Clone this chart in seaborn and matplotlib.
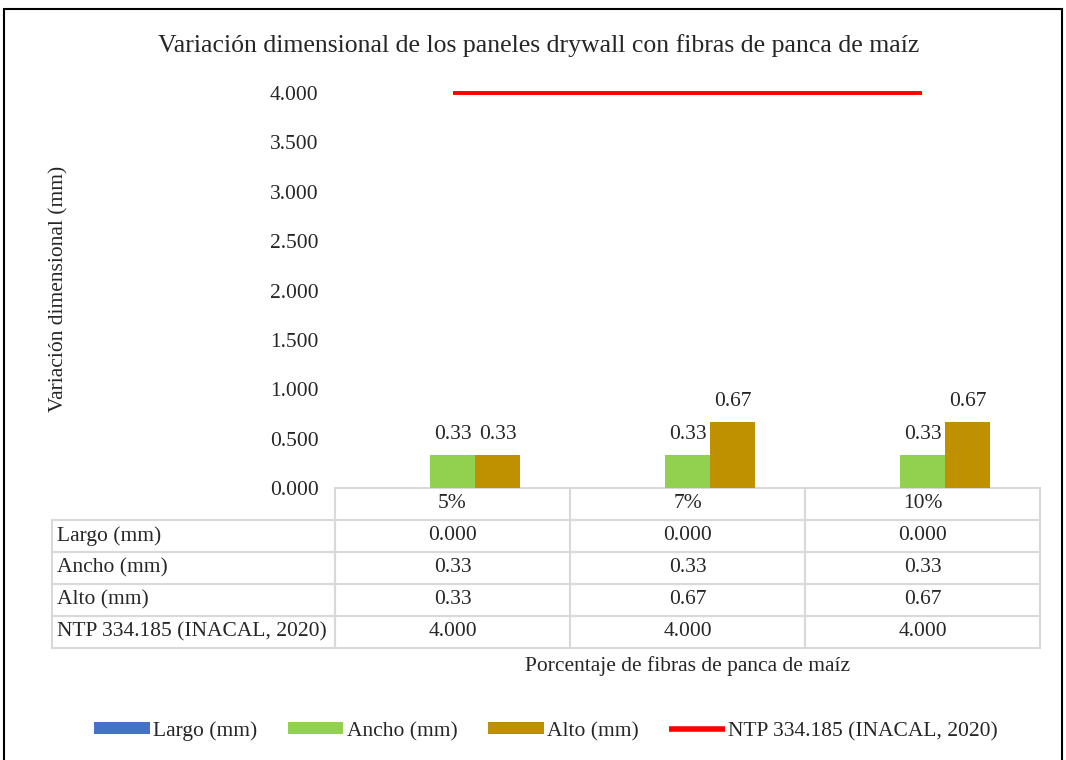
import numpy as np
import pandas as pd
import matplotlib.pyplot as plt
from matplotlib.patches import Rectangle
import seaborn as sns

categorias = ['5%', '7%', '10%']
largo = [0.000, 0.000, 0.000]
ancho = [0.33, 0.33, 0.33]
alto = [0.33, 0.67, 0.67]
ntp = [4.000, 4.000, 4.000]

series = ['Largo (mm)', 'Ancho (mm)', 'Alto (mm)']
ntp_nombre = 'NTP 334.185 (INACAL, 2020)'
colores = ['#4472C4', '#92D050', '#BF9000']

sns.set_style('white')
plt.rcParams['font.family'] = ['Liberation Serif', 'DejaVu Serif']
fs = 15.5

df = pd.DataFrame({
    'Porcentaje': categorias * 3,
    'valor': largo + ancho + alto,
    'serie': [s for s in series for _ in categorias],
})

fig = plt.figure(figsize=(10.66, 7.6), dpi=100)
ax = fig.add_axes([0.3143, 0.3579, 0.6613, 0.5197])

sns.barplot(data=df, x='Porcentaje', y='valor', hue='serie', hue_order=series,
            palette=colores, width=0.575, saturation=1, errorbar=None,
            linewidth=0, ax=ax)
handles, labels = ax.get_legend_handles_labels()
ax.get_legend().remove()

sns.lineplot(x=np.arange(len(categorias)), y=ntp, color='#FF0000',
             linewidth=2.8, legend=False, ax=ax)
linea = ax.get_lines()[-1]
linea.set_clip_on(False)
linea.set_solid_capstyle('butt')

# etiquetas de datos (Largo sin etiqueta)
for cont, vals in zip(ax.containers, [largo, ancho, alto]):
    etiquetas = ['' if v == 0 else f'{v:.2f}' for v in vals]
    ax.bar_label(cont, labels=etiquetas, padding=8, fontsize=fs)

ax.set_xlim(-0.5, len(categorias) - 0.5)
ax.set_ylim(0, 4.0)
ax.set_yticks(np.arange(0, 4.01, 0.5))
ax.set_yticklabels([f'{t:.3f}' for t in np.arange(0, 4.01, 0.5)], fontsize=fs)
ax.tick_params(axis='y', length=0, pad=12)
ax.set_xticks([])
ax.set_xlabel('')
ax.set_ylabel('')
sns.despine(ax=ax, left=True, bottom=True)

# tabla de datos
filas = [
    [series[0]] + [f'{v:.3f}' for v in largo],
    [series[1]] + [f'{v:.2f}' for v in ancho],
    [series[2]] + [f'{v:.2f}' for v in alto],
    [ntp_nombre] + [f'{v:.3f}' for v in ntp],
]
ancho_etq = 283 / 705
tabla = ax.table(cellText=filas, colLabels=[''] + categorias,
                 colWidths=[ancho_etq] + [1 / 3] * 3,
                 cellLoc='center', bbox=[-ancho_etq, -0.405, 1 + ancho_etq, 0.405])
tabla.auto_set_font_size(False)
tabla.set_fontsize(fs)
for (r, c), cell in tabla.get_celld().items():
    cell.set_edgecolor('#d9d9d9')
    cell.set_linewidth(1.5)
    cell.set_facecolor('none')
    if c == 0:
        cell.get_text().set_horizontalalignment('left')
        cell.PAD = 0.018
    if r == 0 and c == 0:
        cell.visible_edges = ''

fig.text(0.505, 0.94, 'Variación dimensional de los paneles drywall con fibras de panca de maíz',
         ha='center', va='center', fontsize=18.5)
fig.text(0.055, 0.62, 'Variación dimensional (mm)', rotation=90,
         ha='center', va='center', fontsize=fs)
fig.text(0.645, 0.1237, 'Porcentaje de fibras de panca de maíz',
         ha='center', va='center', fontsize=fs)

leg = fig.legend(handles + [linea], labels + [ntp_nombre], loc='center',
                 bbox_to_anchor=(0.512, 0.038), ncol=4, frameon=False, fontsize=fs,
                 handlelength=2.6, handleheight=0.5, handletextpad=0.15,
                 columnspacing=1.4)
leg.get_lines()[0].set_linewidth(4.0)

fig.patches.append(Rectangle((0.004, -0.02), 0.992, 1.008, transform=fig.transFigure,
                             fill=False, edgecolor='black', linewidth=1.5))

fig.savefig('out.png', dpi=100)
